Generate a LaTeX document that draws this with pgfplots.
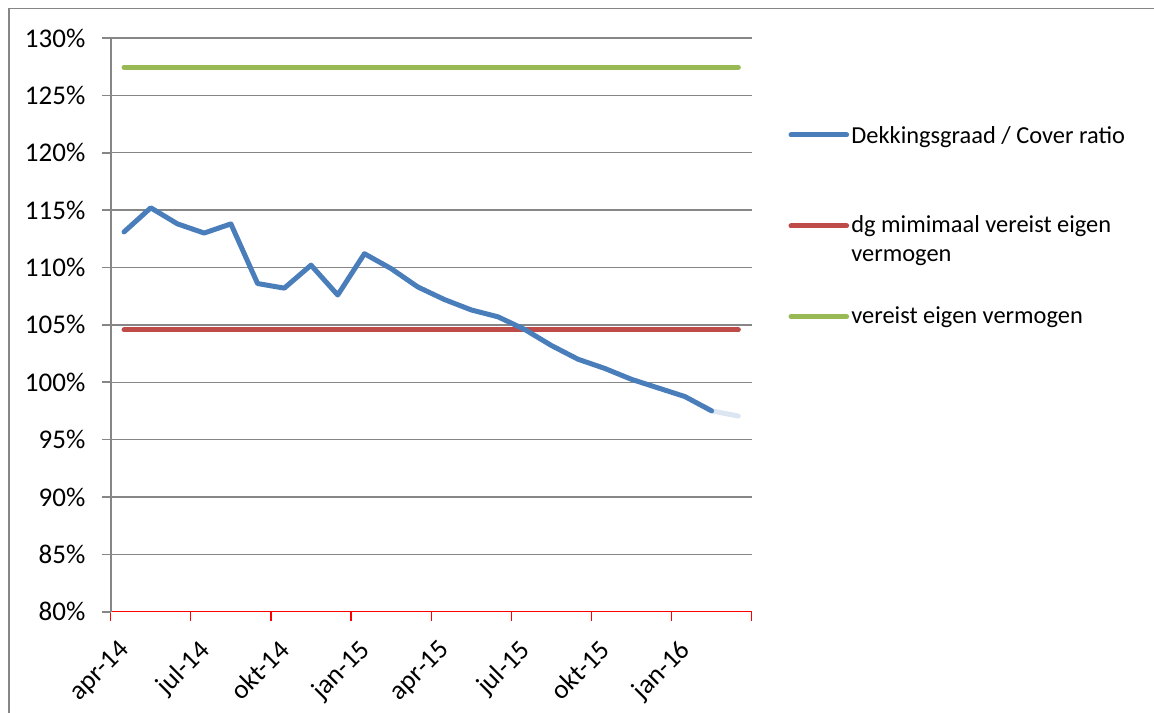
\documentclass[border=0pt]{standalone}
\usepackage{pgfplots}
\pgfplotsset{compat=1.18}
\usepackage{fontspec}
\setmainfont{Carlito}
\definecolor{cblue}{HTML}{4A7EBB}
\definecolor{cred}{HTML}{BE4B48}
\definecolor{cgreen}{HTML}{98B954}
\definecolor{cfade}{HTML}{DCE6F2}
\definecolor{cgrid}{HTML}{868686}
\begin{document}
\fontsize{12.2}{14.6}\selectfont
\begin{tikzpicture}
\path[use as bounding box] (0,0) rectangle (577pt,356pt);
\draw[cgrid, line width=0.8pt] (4.5pt,-10pt) rectangle (600pt,351.8pt);
\begin{axis}[
  at={(55.35pt,50.15pt)}, anchor=south west,
  scale only axis, width=320.5pt, height=286.85pt,
  xmin=0, xmax=24, ymin=80, ymax=130,
  axis x line*=bottom, axis y line*=left,
  x axis line style={-, draw=red, line width=0.6pt},
  y axis line style={-, draw=cgrid, line width=0.8pt},
  xtick={0,3,6,9,12,15,18,21,24},
  xticklabels={apr-14,jul-14,okt-14,jan-15,apr-15,jul-15,okt-15,jan-16,},
  ytick={80,85,...,130},
  yticklabel={\pgfmathprintnumber{\tick}\%},
  /pgf/number format/assume math mode=true,
  tick align=outside,
  major tick length=4.5pt,
  x tick style={red, line width=0.6pt},
  y tick style={cgrid, line width=0.8pt},
  ymajorgrids, grid style={cgrid, line width=0.7pt},
  ticklabel style={font=\fontsize{13.5}{16}\selectfont},
  xticklabel style={xshift=3.4pt, yshift=-8.6pt, rotate=45, anchor=north east, inner sep=0pt},
  yticklabel style={anchor=east, inner sep=0pt, xshift=-8pt},
  clip=false,
]
\addplot[cgreen, line width=2.5pt, line cap=round] coordinates {(0.5,127.45) (23.5,127.45)};
\addplot[cred, line width=2.5pt, line cap=round] coordinates {(0.5,104.56) (23.5,104.56)};
\addplot[cfade, line width=2.5pt, line cap=round] coordinates {(22.5,97.5) (23.5,97.05)};
\addplot[cblue, line width=2.5pt, line cap=round, line join=round] coordinates {
(0.5,113.1) (1.5,115.2) (2.5,113.8) (3.5,113.0) (4.5,113.8) (5.5,108.6)
(6.5,108.2) (7.5,110.2) (8.5,107.6) (9.5,111.2) (10.5,109.9) (11.5,108.3)
(12.5,107.2) (13.5,106.3) (14.5,105.7) (15.5,104.6) (16.5,103.2) (17.5,102.0)
(18.5,101.2) (19.5,100.25) (20.5,99.5) (21.5,98.75) (22.5,97.5)};
\end{axis}
% legend
\draw[cblue, line width=2.5pt, line cap=round] (395.5pt,288.5pt) -- (423.3pt,288.5pt);
\node[anchor=base west, inner sep=0pt] at (425.5pt,284.4pt) {Dekkingsgraad / Cover ratio};
\draw[cred, line width=2.5pt, line cap=round] (395.5pt,243pt) -- (423.3pt,243pt);
\node[anchor=base west, inner sep=0pt] at (425.5pt,239.6pt) {dg mimimaal vereist eigen};
\node[anchor=base west, inner sep=0pt] at (425.5pt,225.1pt) {vermogen};
\draw[cgreen, line width=2.5pt, line cap=round] (395.5pt,197.7pt) -- (423.3pt,197.7pt);
\node[anchor=base west, inner sep=0pt] at (425.5pt,194.3pt) {vereist eigen vermogen};
\end{tikzpicture}
\end{document}
